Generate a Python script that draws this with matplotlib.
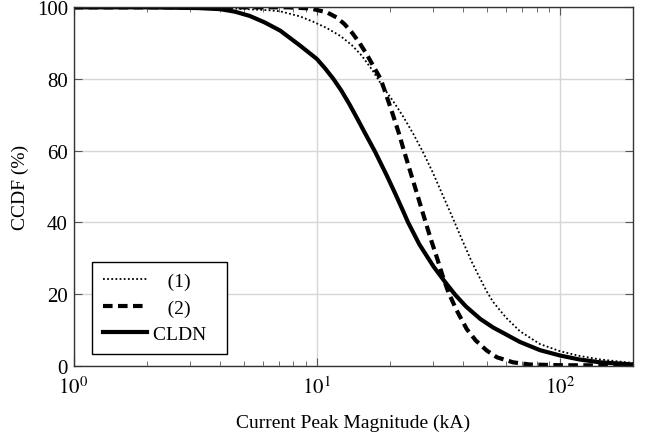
import matplotlib
matplotlib.use("Agg")
import matplotlib.pyplot as plt
from matplotlib.ticker import LogLocator, FixedLocator

plt.rcParams['font.family'] = ['Liberation Serif', 'DejaVu Serif']
plt.rcParams['mathtext.fontset'] = 'stix'

# Series (1) - dotted
x1 = [1, 2, 3.24, 4.2, 5.16, 6.3, 7.07, 8.5, 9.65, 11, 12.5, 13.9, 15.3, 16.9, 18.6, 20.5, 22.6, 25.0, 27.4, 30.0, 33.0, 36.4, 40.0, 43.5, 46.8, 49.9, 53.0, 56.6, 60.3, 68.3, 82.6, 100, 120, 146, 200]
y1 = [100, 100, 100, 99.8, 99.5, 99.2, 98.9, 97.5, 96.0, 94.2, 92.0, 89.5, 86.5, 82.5, 78.0, 74.0, 69.6, 64.5, 59.4, 53.8, 47.4, 40.8, 34.3, 28.7, 24.4, 20.7, 17.8, 15.4, 13.2, 9.6, 6.0, 4.0, 2.7, 1.7, 0.7]

# Series (2) - dashed
x2 = [1, 3, 5, 7.6, 9.4, 11.0, 12.05, 13.0, 14.0, 15.0, 16.0, 17.2, 18.3, 19.4, 20.5, 21.7, 22.8, 24.0, 25.3, 26.6, 28.0, 29.5, 31.2, 32.9, 34.7, 37.5, 41.3, 45.0, 49.9, 55.0, 64.1, 75, 100, 200]
y2 = [100, 100, 100, 100, 99.7, 98.6, 97.2, 95.3, 92.8, 90.0, 87.0, 83.2, 80.0, 75.0, 70.2, 65.0, 60.0, 55.0, 49.9, 45.0, 40.0, 35.0, 30.0, 25.0, 20.5, 15.5, 10.2, 7.0, 4.2, 2.3, 0.9, 0.3, 0.1, 0.0]

# CLDN - solid
x3 = [1, 2, 3.24, 4.0, 4.6, 5.3, 6.1, 7.07, 8.54, 10, 10.8, 11.7, 12.6, 13.6, 14.7, 15.8, 17.35, 19.4, 21.0, 22.6, 23.7, 26.4, 30.2, 33.6, 37.0, 41.0, 47.0, 53.1, 56.6, 68.3, 82.6, 100, 120, 146, 200]
y3 = [100, 100, 99.8, 99.5, 98.8, 97.6, 95.8, 93.5, 89.3, 85.6, 83.0, 80.0, 76.8, 73.0, 68.8, 64.8, 59.7, 53.0, 48.0, 43.2, 40.0, 33.8, 27.6, 23.4, 19.8, 16.5, 13.0, 10.6, 9.6, 6.6, 4.3, 2.8, 1.7, 0.9, 0.3]

labels = ['   (1)', '   (2)', 'CLDN  ']

fig = plt.figure(figsize=(6.45, 4.39), dpi=100)
ax = fig.add_axes([0.114, 0.165, 0.868, 0.816])

ax.plot(x1, y1, color='black', lw=1.3, linestyle=(0, (1, 1.3)), label=labels[0])
ax.plot(x2, y2, color='black', lw=3.0, linestyle=(0, (2.3, 1.3)), label=labels[1])
ax.plot(x3, y3, color='black', lw=3.0, linestyle='-', label=labels[2])

ax.set_xscale('log')
ax.set_xlim(1, 200)
ax.set_ylim(0, 100)
ax.set_yticks([0, 20, 40, 60, 80, 100])
ax.xaxis.set_major_locator(FixedLocator([1, 10, 100]))
ax.set_xticklabels([r'$10^{0}$', r'$10^{1}$', r'$10^{2}$'])
ax.xaxis.set_minor_locator(LogLocator(base=10, subs=range(2, 10)))
ax.xaxis.set_minor_formatter(plt.NullFormatter())

ax.grid(True, which='major', color='#d6d6d6', lw=1.0)
ax.set_axisbelow(True)
ax.tick_params(which='both', direction='in', top=True, right=True, color='#555555')
ax.tick_params(which='major', length=6, labelsize=15)
ax.tick_params(axis='x', which='major', pad=8)
ax.tick_params(axis='y', which='major', pad=4)
ax.tick_params(which='minor', length=3.5)
for s in ax.spines.values():
    s.set_color('#333333')
    s.set_linewidth(1.0)

ax.set_xlabel('Current Peak Magnitude (kA)', fontsize=14, labelpad=11)
ax.set_ylabel('CCDF (%)', fontsize=14, labelpad=6)

leg = ax.legend(loc='lower left', bbox_to_anchor=(0.033, 0.033), borderaxespad=0,
                fontsize=14, frameon=True, fancybox=False, edgecolor='black',
                framealpha=1, handlelength=2.3, handletextpad=0.3,
                labelspacing=0.45, borderpad=0.55)
leg.get_frame().set_linewidth(1.0)

fig.savefig('out.png', dpi=100)
